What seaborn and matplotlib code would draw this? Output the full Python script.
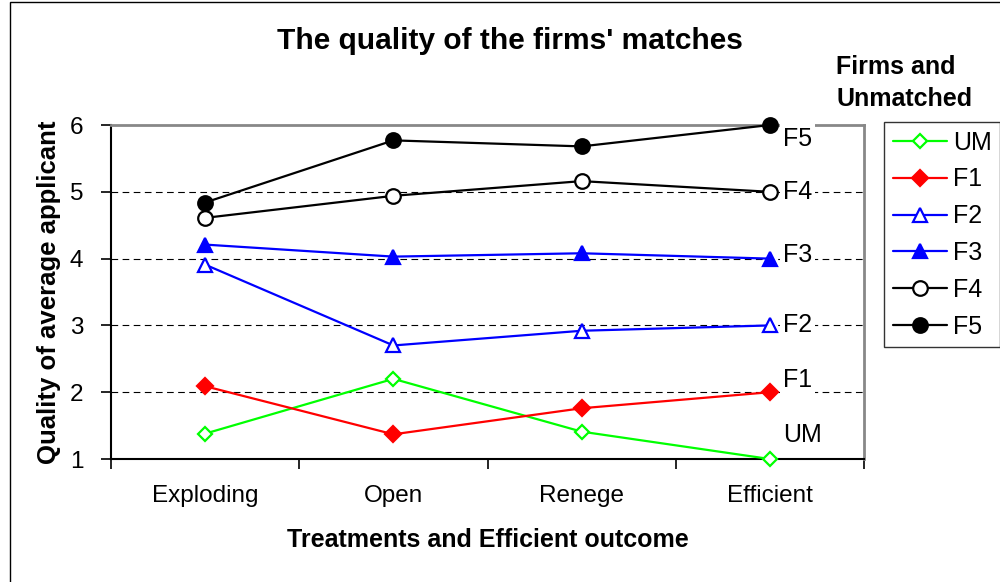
import numpy as np
import pandas as pd
import matplotlib
matplotlib.use("Agg")
import matplotlib.pyplot as plt
import seaborn as sns
from matplotlib.patches import Rectangle

treatments = ["Exploding", "Open", "Renege", "Efficient"]
series_names = ["UM", "F1", "F2", "F3", "F4", "F5"]
um = [1.38, 2.20, 1.41, 1.00]
f1 = [2.09, 1.37, 1.76, 2.00]
f2 = [3.91, 2.70, 2.92, 3.00]
f3 = [4.21, 4.03, 4.08, 4.00]
f4 = [4.61, 4.94, 5.16, 5.00]
f5 = [4.84, 5.77, 5.68, 6.00]

rows = []
for name, vals in zip(series_names, [um, f1, f2, f3, f4, f5]):
    for i, v in enumerate(vals):
        rows.append({"series": name, "pos": i, "treatment": treatments[i], "quality": v})
df = pd.DataFrame(rows)

sns.set_theme(style="white")
plt.rcParams["font.family"] = ["Liberation Sans", "DejaVu Sans"]
plt.rcParams.update({"text.color": "black", "axes.labelcolor": "black",
                     "xtick.color": "black", "ytick.color": "black"})

# (color, marker, filled, size)
styles = {
    "UM": ("#00FF00", "D", False, 7.5),
    "F1": ("#FF0000", "D", True, 8.5),
    "F2": ("#0000FF", "^", False, 10.5),
    "F3": ("#0000FF", "^", True, 10.5),
    "F4": ("#000000", "o", False, 10.5),
    "F5": ("#000000", "o", True, 10.5),
}

fig = plt.figure(figsize=(10, 5.82), dpi=100)
ax = fig.add_axes([0.111, 0.2113, 0.753, 0.5739])

for name in series_names:
    color, marker, filled, ms = styles[name]
    sub = df[df["series"] == name]
    sns.lineplot(data=sub, x="pos", y="quality", ax=ax, color=color, linewidth=1.6,
                 marker=marker, markersize=ms, markeredgewidth=1.6,
                 markerfacecolor=color if filled else "white", markeredgecolor=color,
                 label=name, zorder=4, clip_on=False)

ax.set_xlim(-0.5, 3.5)
ax.set_ylim(1, 6)
ax.set_yticks([1, 2, 3, 4, 5, 6])
ax.set_xticks(range(len(treatments)))
ax.set_xticklabels(treatments)
ax.set_xticks(np.arange(-0.5, 3.6, 1.0), minor=True)
ax.tick_params(axis="x", which="major", length=0, pad=19, labelsize=17.5, colors="black")
ax.tick_params(axis="x", which="minor", length=7, width=1.2, direction="out", bottom=True, color="black")
ax.tick_params(axis="y", which="major", length=7, width=1.2, direction="out", left=True,
               pad=13, labelsize=17.5, color="black")

for y in [2, 3, 4, 5]:
    ax.axhline(y, color="black", linewidth=0.8, linestyle=(0, (6, 4)), zorder=1)

for s in ["left", "bottom"]:
    ax.spines[s].set_color("black")
    ax.spines[s].set_linewidth(1.5)
for s in ["top", "right"]:
    ax.spines[s].set_color("#888888")
    ax.spines[s].set_linewidth(2)

ax.set_xlabel("Treatments and Efficient outcome", fontsize=18, fontweight="bold", labelpad=15)
ax.set_ylabel("Quality of average applicant", fontsize=18.5, fontweight="bold", labelpad=6)

label_y = {"F5": 5.79, "F4": 5.0, "F3": 4.06, "F2": 3.01, "F1": 2.18, "UM": 1.36}
for name, yv in label_y.items():
    ax.text(3.07, yv, name, fontsize=18, va="center", ha="left", zorder=5,
            bbox=dict(facecolor="white", edgecolor="none", pad=2))

ax.get_legend().remove()
handles, labels = ax.get_legend_handles_labels()
leg = fig.legend(handles, labels, loc="upper left", bbox_to_anchor=(0.884, 1 - 122 / 582),
                 frameon=True, fancybox=False, fontsize=18, handlelength=2.15,
                 labelspacing=0.51, borderpad=0.35, handletextpad=0.25, borderaxespad=0)
leg.get_frame().set_edgecolor("black")
leg.get_frame().set_linewidth(1.0)

fig.text(0.51, 1 - 41 / 582, "The quality of the firms' matches", fontsize=21.5,
         fontweight="bold", ha="center", va="center")
fig.text(0.836, 1 - 83 / 582, "Firms and\nUnmatched", fontsize=18, fontweight="bold",
         ha="left", va="center", linespacing=1.4)

# outer chart-area border
fig.patches.append(Rectangle((0.010, -0.1), 1.2, 1.096, transform=fig.transFigure,
                             fill=False, edgecolor="black", linewidth=1.0))

fig.savefig("out.png", dpi=100)
